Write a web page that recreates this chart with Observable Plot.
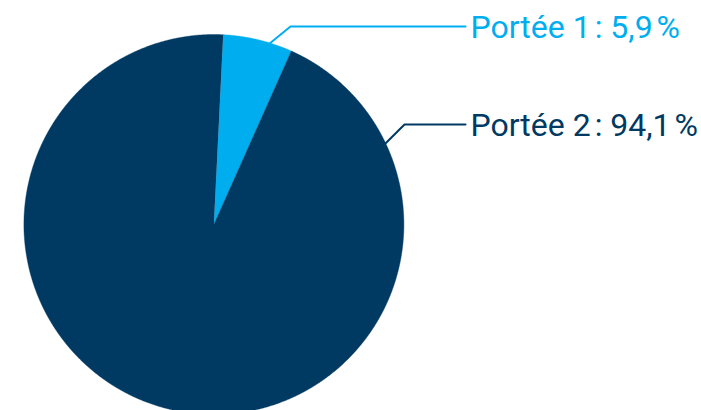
<!DOCTYPE html>
<html><head><meta charset="utf-8">
<script src="https://cdn.jsdelivr.net/npm/d3@7"></script>
<script src="https://cdn.jsdelivr.net/npm/@observablehq/plot@0.6"></script>
<style>body{margin:0;background:#fff}</style>
</head><body><div id="chart"></div>
<script>
// Data
const categories = ["Portée 1", "Portée 2"];
const values = [5.9, 94.1];
const valueLabels = ["5,9\u202F%", "94,1\u202F%"];
const colors = ["#00aeef", "#003a63"];

// Layout
const W = 701, H = 410;
const cx = 213.4, cy = 224, R = 190, startAngle = 0.049;
const leaderFrac = [0.68, 0.12];
const elbowX = [290, 404];
const labelY = [26, 124];
const lineEndX = 465, textX = 470;

const pie = d3.pie().sort(null).startAngle(startAngle).endAngle(startAngle + 2 * Math.PI)(values);

const wedgePts = [];
pie.forEach((p, i) => {
  wedgePts.push({i, x: cx, y: cy});
  const n = Math.ceil((p.endAngle - p.startAngle) / 0.004);
  for (let k = 0; k <= n; k++) {
    const a = p.startAngle + (p.endAngle - p.startAngle) * k / n;
    wedgePts.push({i, x: cx + R * Math.sin(a), y: cy - R * Math.cos(a)});
  }
});

const leaderPts = [];
const labelData = [];
pie.forEach((p, i) => {
  const a = p.startAngle + (p.endAngle - p.startAngle) * leaderFrac[i];
  leaderPts.push({i, x: cx + R * Math.sin(a), y: cy - R * Math.cos(a)});
  leaderPts.push({i, x: elbowX[i], y: labelY[i]});
  leaderPts.push({i, x: lineEndX, y: labelY[i]});
  labelData.push({i, x: textX, y: labelY[i], text: `${categories[i]}\u202F: ${valueLabels[i]}`});
});

const chart = Plot.plot({
  width: W, height: H, margin: 0,
  style: {background: "#fff", overflow: "visible"},
  x: {domain: [0, W], range: [0, W], axis: null},
  y: {domain: [0, H], range: [0, H], axis: null},
  color: {type: "identity"},
  marks: [
    Plot.line(wedgePts, {x: "x", y: "y", z: "i", fill: d => colors[d.i], stroke: d => colors[d.i], strokeWidth: 0.4}),
    Plot.line(leaderPts, {x: "x", y: "y", z: "i", stroke: d => colors[d.i], strokeWidth: 2}),
    Plot.text(labelData, {x: "x", y: "y", text: "text", fill: d => colors[d.i], textAnchor: "start", lineAnchor: "middle", fontSize: 32, fontFamily: "Roboto", dy: 1.5})
  ]
});
document.getElementById("chart").appendChild(chart);
</script>
</body></html>
